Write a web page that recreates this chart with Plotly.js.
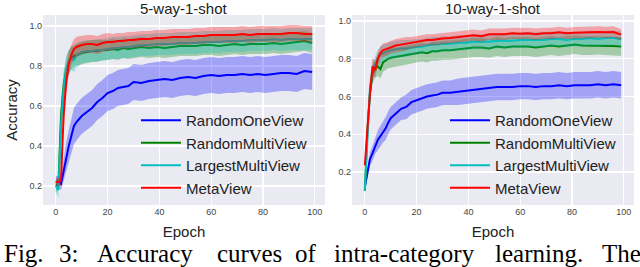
<!DOCTYPE html>
<html><head><meta charset="utf-8">
<script src="https://cdn.plot.ly/plotly-3.0.1.min.js"></script>
<style>html,body{margin:0;padding:0;background:#fff;}#c{width:640px;height:267px;}</style>
</head><body><div id="c"></div>
<script>
var epochs = [0,1,2,3,4,5,6,7,8,9, 10,12,14,16,18,20,22,24,26,28, 30,33,36,39,42,45,48,51,54,57, 60,63,66,69,72,75,78,81,84,87, 90,93,96,99];
var methods = ["RandomOneView","RandomMultiView","LargestMultiView","MetaView"];
var xTicks = [0,20,40,60,80,100];
var yTicks = [0.2,0.4,0.6,0.8,1.0];
var titles = ["5-way-1-shot","10-way-1-shot"];

// 5-way-1-shot
var blue5 = [0.22,0.22,0.21,0.28,0.35,0.40,0.45,0.50,0.52,0.535, 0.55,0.57,0.59,0.62,0.64,0.665,0.675,0.69,0.695,0.70, 0.72,0.715,0.725,0.73,0.735,0.73,0.74,0.745,0.74,0.75, 0.755,0.75,0.755,0.755,0.76,0.755,0.76,0.755,0.76,0.765, 0.765,0.76,0.775,0.77];
var blue5sd = [0.03,0.03,0.03,0.05,0.07,0.08,0.085,0.09,0.09,0.09, 0.09,0.09,0.09,0.09,0.09,0.09,0.09,0.09,0.09,0.09, 0.09,0.09,0.09,0.09,0.09,0.09,0.09,0.09,0.09,0.09, 0.09,0.09,0.09,0.09,0.09,0.09,0.09,0.09,0.09,0.09, 0.09,0.09,0.09,0.09];
var green5 = [0.20,0.21,0.55,0.70,0.78,0.82,0.84,0.85,0.855,0.86, 0.865,0.87,0.875,0.875,0.88,0.88,0.885,0.88,0.89,0.885, 0.89,0.895,0.89,0.895,0.89,0.895,0.90,0.90,0.90,0.905, 0.905,0.90,0.905,0.91,0.905,0.91,0.91,0.91,0.915,0.91, 0.915,0.92,0.925,0.915];
var green5sd = [0.03,0.03,0.08,0.07,0.06,0.06,0.055,0.055,0.055,0.055, 0.055,0.055,0.055,0.055,0.05,0.05,0.05,0.05,0.05,0.05, 0.05,0.05,0.05,0.05,0.05,0.05,0.05,0.05,0.05,0.05, 0.05,0.05,0.05,0.05,0.05,0.05,0.05,0.05,0.05,0.05, 0.05,0.05,0.05,0.05];
var cyan5 = [0.20,0.18,0.50,0.68,0.78,0.82,0.84,0.83,0.855,0.86, 0.87,0.875,0.875,0.88,0.88,0.885,0.89,0.89,0.895,0.895, 0.90,0.905,0.905,0.91,0.91,0.91,0.915,0.915,0.915,0.92, 0.92,0.92,0.925,0.925,0.925,0.93,0.93,0.93,0.935,0.93, 0.935,0.935,0.935,0.935];
var cyan5sd = [0.03,0.04,0.09,0.08,0.07,0.06,0.06,0.06,0.06,0.06, 0.055,0.055,0.055,0.055,0.055,0.055,0.055,0.055,0.055,0.055, 0.055,0.055,0.055,0.055,0.055,0.055,0.055,0.055,0.055,0.055, 0.055,0.055,0.055,0.055,0.055,0.055,0.055,0.055,0.055,0.055, 0.055,0.055,0.055,0.055];
var red5 = [0.22,0.22,0.23,0.55,0.72,0.81,0.855,0.885,0.895,0.90, 0.905,0.91,0.91,0.905,0.915,0.92,0.92,0.925,0.925,0.93, 0.93,0.935,0.935,0.94,0.94,0.945,0.945,0.945,0.95,0.95, 0.955,0.955,0.955,0.955,0.96,0.955,0.96,0.96,0.96,0.96, 0.965,0.965,0.96,0.96];
var red5sd = [0.02,0.02,0.03,0.08,0.07,0.06,0.05,0.05,0.05,0.05, 0.045,0.045,0.045,0.045,0.045,0.045,0.04,0.04,0.04,0.04, 0.04,0.04,0.04,0.04,0.04,0.04,0.04,0.04,0.04,0.04, 0.04,0.04,0.04,0.04,0.04,0.04,0.04,0.04,0.04,0.04, 0.04,0.04,0.04,0.04];

// 10-way-1-shot
var blue10 = [0.12,0.20,0.27,0.30,0.34,0.37,0.39,0.41,0.43,0.46, 0.485,0.51,0.535,0.545,0.57,0.58,0.59,0.60,0.605,0.61, 0.62,0.62,0.625,0.63,0.635,0.64,0.645,0.65,0.65,0.65, 0.655,0.655,0.65,0.655,0.655,0.66,0.655,0.66,0.66,0.66, 0.665,0.66,0.665,0.66];
var blue10sd = [0.02,0.03,0.035,0.04,0.045,0.05,0.055,0.055,0.06,0.06, 0.06,0.06,0.06,0.065,0.065,0.065,0.065,0.065,0.065,0.065, 0.065,0.065,0.07,0.07,0.07,0.07,0.07,0.07,0.07,0.07, 0.07,0.07,0.07,0.07,0.07,0.07,0.07,0.07,0.07,0.07, 0.07,0.07,0.07,0.07];
var green10 = [0.10,0.42,0.62,0.72,0.75,0.76,0.745,0.78,0.79,0.80, 0.805,0.81,0.815,0.82,0.825,0.83,0.835,0.83,0.84,0.84, 0.845,0.845,0.85,0.855,0.86,0.86,0.855,0.865,0.86,0.865, 0.865,0.865,0.86,0.865,0.87,0.865,0.87,0.875,0.87,0.87, 0.872,0.87,0.868,0.865];
var green10sd = [0.02,0.05,0.06,0.05,0.05,0.05,0.05,0.05,0.05,0.05, 0.05,0.05,0.05,0.05,0.05,0.05,0.05,0.05,0.05,0.05, 0.05,0.05,0.05,0.05,0.05,0.05,0.05,0.05,0.05,0.05, 0.05,0.05,0.05,0.05,0.05,0.05,0.05,0.05,0.05,0.05, 0.05,0.05,0.05,0.05];
var cyan10 = [0.10,0.42,0.65,0.74,0.77,0.80,0.82,0.83,0.835,0.84, 0.845,0.85,0.855,0.855,0.86,0.863,0.865,0.87,0.875,0.875, 0.88,0.88,0.885,0.885,0.89,0.89,0.89,0.895,0.895,0.895, 0.90,0.90,0.90,0.90,0.905,0.905,0.90,0.905,0.905,0.91, 0.905,0.91,0.91,0.905];
var cyan10sd = [0.02,0.05,0.05,0.045,0.045,0.045,0.045,0.045,0.045,0.045, 0.045,0.045,0.045,0.045,0.04,0.04,0.04,0.04,0.04,0.04, 0.04,0.04,0.04,0.04,0.04,0.04,0.04,0.04,0.04,0.04, 0.04,0.04,0.04,0.04,0.04,0.04,0.04,0.04,0.04,0.04, 0.04,0.04,0.04,0.04];
var red10 = [0.235,0.45,0.62,0.76,0.74,0.80,0.83,0.845,0.85,0.855, 0.863,0.87,0.875,0.88,0.885,0.89,0.895,0.90,0.90,0.905, 0.907,0.91,0.915,0.92,0.925,0.92,0.93,0.93,0.93,0.935, 0.933,0.935,0.93,0.935,0.935,0.94,0.935,0.938,0.94,0.94, 0.942,0.94,0.942,0.928];
var red10sd = [0.02,0.04,0.05,0.05,0.04,0.04,0.035,0.035,0.035,0.035, 0.035,0.035,0.035,0.035,0.03,0.03,0.03,0.03,0.03,0.03, 0.03,0.03,0.03,0.03,0.03,0.03,0.03,0.03,0.03,0.03, 0.03,0.03,0.03,0.03,0.03,0.03,0.03,0.03,0.03,0.03, 0.03,0.03,0.03,0.03];

var lineColors = ["#0000ff","#008000","#00bfbf","#ff0000"];
var bandColors = ["rgba(0,0,255,0.3)","rgba(0,128,0,0.3)","rgba(0,191,191,0.3)","rgba(255,0,0,0.3)"];

var panels = [
  {means:[blue5,green5,cyan5,red5], sds:[blue5sd,green5sd,cyan5sd,red5sd], xa:"x", ya:"y", leg:"legend"},
  {means:[blue10,green10,cyan10,red10], sds:[blue10sd,green10sd,cyan10sd,red10sd], xa:"x2", ya:"y2", leg:"legend2"}
];

var traces = [];
panels.forEach(function(p){
  for (var k=0;k<4;k++){
    var m=p.means[k], s=p.sds[k];
    var up=m.map(function(v,i){return v+s[i];});
    var lo=m.map(function(v,i){return v-s[i];});
    traces.push({x:epochs.concat(epochs.slice().reverse()), y:up.concat(lo.slice().reverse()),
      xaxis:p.xa, yaxis:p.ya, mode:"lines", fill:"toself", fillcolor:bandColors[k],
      line:{width:0,color:bandColors[k]}, showlegend:false, hoverinfo:"skip"});
    traces.push({x:epochs, y:m, xaxis:p.xa, yaxis:p.ya, mode:"lines", name:methods[k],
      line:{color:lineColors[k],width:2}, legend:p.leg});
  }
});

var H=267, W=640;
function py(px){return (H-px)/H;}
var tickFont={family:"Liberation Sans, Arial, sans-serif", size:9, color:"#444"};
var axBase={showgrid:true, gridcolor:"#ffffff", gridwidth:1.2, zeroline:false, showline:false, ticks:"", tickfont:tickFont};

var legBase={xanchor:"left", yanchor:"top", bgcolor:"rgba(0,0,0,0)", font:{size:15,color:"#222"}, tracegroupgap:0, itemwidth:40};
var layout={
  width:W, height:H, margin:{l:0,r:0,t:0,b:0}, paper_bgcolor:"#ffffff", plot_bgcolor:"#EAEAF2",
  font:{family:"Liberation Sans, Arial, sans-serif", color:"#222"},
  xaxis:Object.assign({}, axBase, {domain:[43/W,325/W], range:[-4.95,103.95], tickvals:xTicks, anchor:"y",
     title:{text:"Epoch", font:{size:15,color:"#222"}, standoff:10}}),
  yaxis:Object.assign({}, axBase, {domain:[py(205),py(15)], range:[0.105,1.055], tickvals:yTicks, tickformat:".1f", anchor:"x",
     title:{text:"Accuracy", font:{size:15,color:"#222"}, standoff:8}}),
  xaxis2:Object.assign({}, axBase, {domain:[352/W,634/W], range:[-4.95,103.95], tickvals:xTicks, anchor:"y2",
     title:{text:"Epoch", font:{size:15,color:"#222"}, standoff:10}}),
  yaxis2:Object.assign({}, axBase, {domain:[py(205),py(15)], range:[0.025,1.032], tickvals:yTicks, tickformat:".1f", anchor:"x2"}),
  legend:Object.assign({x:136/W, y:py(104)}, legBase),
  legend2:Object.assign({x:445/W, y:py(104)}, legBase),
  annotations:[
    {text:titles[0], x:184/W, y:py(8.5), xref:"paper", yref:"paper", xanchor:"center", yanchor:"middle", showarrow:false, font:{size:15,color:"#222"}},
    {text:titles[1], x:493/W, y:py(8.5), xref:"paper", yref:"paper", xanchor:"center", yanchor:"middle", showarrow:false, font:{size:15,color:"#222"}}
  ],
  showlegend:true
};

var captionWords=["Fig.","3:","Accuracy","curves","of","intra-category","learning.","The"];
var captionX=[2,57,95,215,293,332,493,600];
captionWords.forEach(function(w,i){
  layout.annotations.push({text:w, x:captionX[i]/W, y:py(253), xref:"paper", yref:"paper", xanchor:"left", yanchor:"middle",
    showarrow:false, font:{family:"Liberation Serif, Times New Roman, serif", size:25, color:"#000"}});
});

Plotly.newPlot("c", traces, layout, {staticPlot:true, displayModeBar:false});
</script></body></html>
